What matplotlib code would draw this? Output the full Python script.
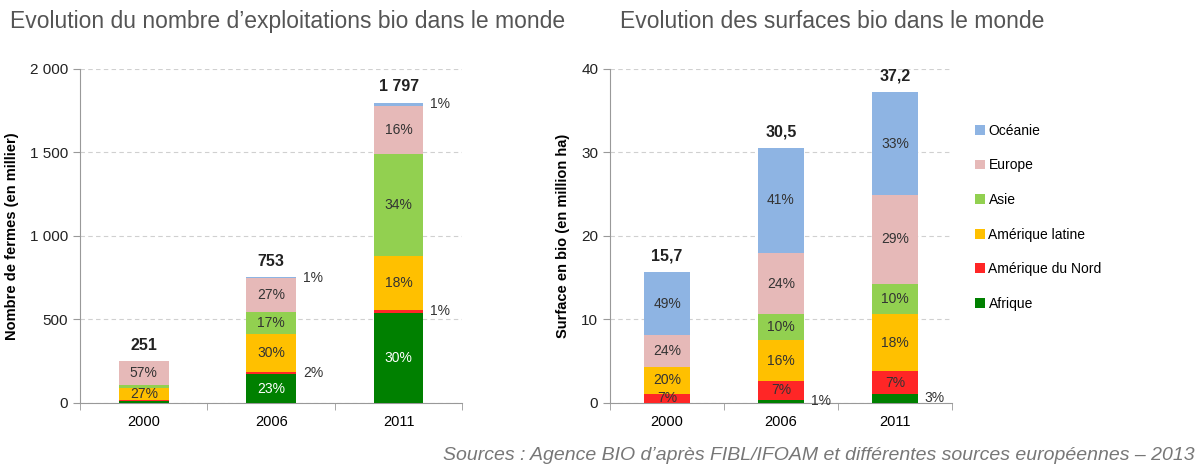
import matplotlib.pyplot as plt
import numpy as np

plt.rcParams['font.family'] = ['Liberation Sans', 'DejaVu Sans']

years = ["2000", "2006", "2011"]
regions = ["Afrique", "Amérique du Nord", "Amérique latine", "Asie", "Europe", "Océanie"]
colors = ["#008000", "#FF2626", "#FFC000", "#92D050", "#E6B9B8", "#8EB4E3"]

# nombre d'exploitations (en millier)
fermes = {
    "Afrique": [14, 173, 539],
    "Amérique du Nord": [6, 15, 18],
    "Amérique latine": [68, 226, 323],
    "Asie": [20, 128, 611],
    "Europe": [143, 203, 288],
    "Océanie": [0, 8, 18],
}
fermes_pct = {
    "Afrique": [None, "23%", "30%"],
    "Amérique du Nord": [None, "2%", "1%"],
    "Amérique latine": ["27%", "30%", "18%"],
    "Asie": [None, "17%", "34%"],
    "Europe": ["57%", "27%", "16%"],
    "Océanie": [None, "1%", "1%"],
}
fermes_tot = ["251", "753", "1 797"]

# surfaces (en million ha)
surf = {
    "Afrique": [0.0, 0.4, 1.1],
    "Amérique du Nord": [1.1, 2.2, 2.7],
    "Amérique latine": [3.2, 4.9, 6.8],
    "Asie": [0.0, 3.1, 3.7],
    "Europe": [3.8, 7.4, 10.6],
    "Océanie": [7.6, 12.5, 12.3],
}
surf_pct = {
    "Afrique": [None, "1%", "3%"],
    "Amérique du Nord": ["7%", "7%", "7%"],
    "Amérique latine": ["20%", "16%", "18%"],
    "Asie": [None, "10%", "10%"],
    "Europe": ["24%", "24%", "29%"],
    "Océanie": ["49%", "41%", "33%"],
}
surf_tot = ["15,7", "30,5", "37,2"]

# labels placed to the right of the bar
outside_left = [("Amérique du Nord", 1), ("Océanie", 1), ("Amérique du Nord", 2), ("Océanie", 2)]
outside_right = [("Afrique", 1), ("Afrique", 2)]


def stacked(ax, data, pct, tots, outside, width, ymax, yticks, yticklabels, ylabel, white_afr):
    x = np.arange(len(years))
    bottom = np.zeros(len(years))
    for reg, col in zip(regions, colors):
        vals = np.array(data[reg], dtype=float)
        ax.bar(x, vals, width, bottom=bottom, color=col, zorder=3, label=reg)
        for i in range(len(years)):
            lab = pct[reg][i]
            if lab is None:
                continue
            yc = bottom[i] + vals[i] / 2
            if (reg, i) in outside:
                ax.annotate(lab, (x[i] + width / 2, yc), xytext=(5, 0), textcoords="offset points",
                            ha="left", va="center", fontsize=10, color="#333333")
            else:
                c = "white" if (reg == "Afrique" and white_afr) else "#333333"
                ax.text(x[i], yc, lab, ha="center", va="center", fontsize=10, color=c, zorder=4)
        bottom += vals
    for i in range(len(years)):
        ax.annotate(tots[i], (x[i], bottom[i]), xytext=(0, 6), textcoords="offset points",
                    ha="center", va="bottom", fontsize=11.5, fontweight="bold", color="#222222")
    ax.set_xlim(-0.5, len(years) - 0.5)
    ax.set_ylim(0, ymax)
    ax.set_yticks(yticks)
    ax.set_yticklabels(yticklabels)
    ax.set_xticks(x)
    ax.set_xticklabels(years)
    ax.set_xticks(np.arange(-0.5, len(years)), minor=True)
    ax.tick_params(axis="x", which="major", length=0, pad=9, labelsize=10.5)
    ax.tick_params(axis="x", which="minor", length=5, color="#999999")
    ax.tick_params(axis="y", length=5, color="#999999", labelsize=11, labelcolor="#222222")
    ax.yaxis.grid(True, ls=(0, (4, 3)), color="#D0D0D0", lw=0.8, zorder=0)
    for s in ["top", "right"]:
        ax.spines[s].set_visible(False)
    for s in ["left", "bottom"]:
        ax.spines[s].set_color("#999999")
    ax.set_ylabel(ylabel, fontsize=10.5, fontweight="bold", labelpad=8)


fig = plt.figure(figsize=(12.02, 4.7), dpi=100)
ax1 = fig.add_axes([0.0666, 0.1426, 0.318, 0.711])
ax2 = fig.add_axes([0.5075, 0.1426, 0.2845, 0.711])

stacked(ax1, fermes, fermes_pct, fermes_tot, outside_left, 0.39, 2000,
        [0, 500, 1000, 1500, 2000], ["0", "500", "1 000", "1 500", "2 000"],
        "Nombre de fermes (en millier)", True)
stacked(ax2, surf, surf_pct, surf_tot, outside_right, 0.40, 40,
        [0, 10, 20, 30, 40], ["0", "10", "20", "30", "40"],
        "Surface en bio (en million ha)", False)

h, l = ax2.get_legend_handles_labels()
fig.legend(h[::-1], l[::-1], loc="upper left", bbox_to_anchor=(0.801, 0.763), frameon=False,
           fontsize=10, handlelength=0.7, handleheight=0.7, handletextpad=0.25, labelspacing=1.48)

fig.text(0.008, 0.955, "Evolution du nombre d\u2019exploitations bio dans le monde",
         fontsize=16.5, color="#555555", va="center")
fig.text(0.516, 0.955, "Evolution des surfaces bio dans le monde",
         fontsize=16.5, color="#555555", va="center")
fig.text(0.994, 0.03, "Sources : Agence BIO d\u2019après FIBL/IFOAM et différentes sources européennes \u2013 2013",
         fontsize=14, color="#777777", style="italic", ha="right", va="center")

fig.savefig("out.png", dpi=100)
